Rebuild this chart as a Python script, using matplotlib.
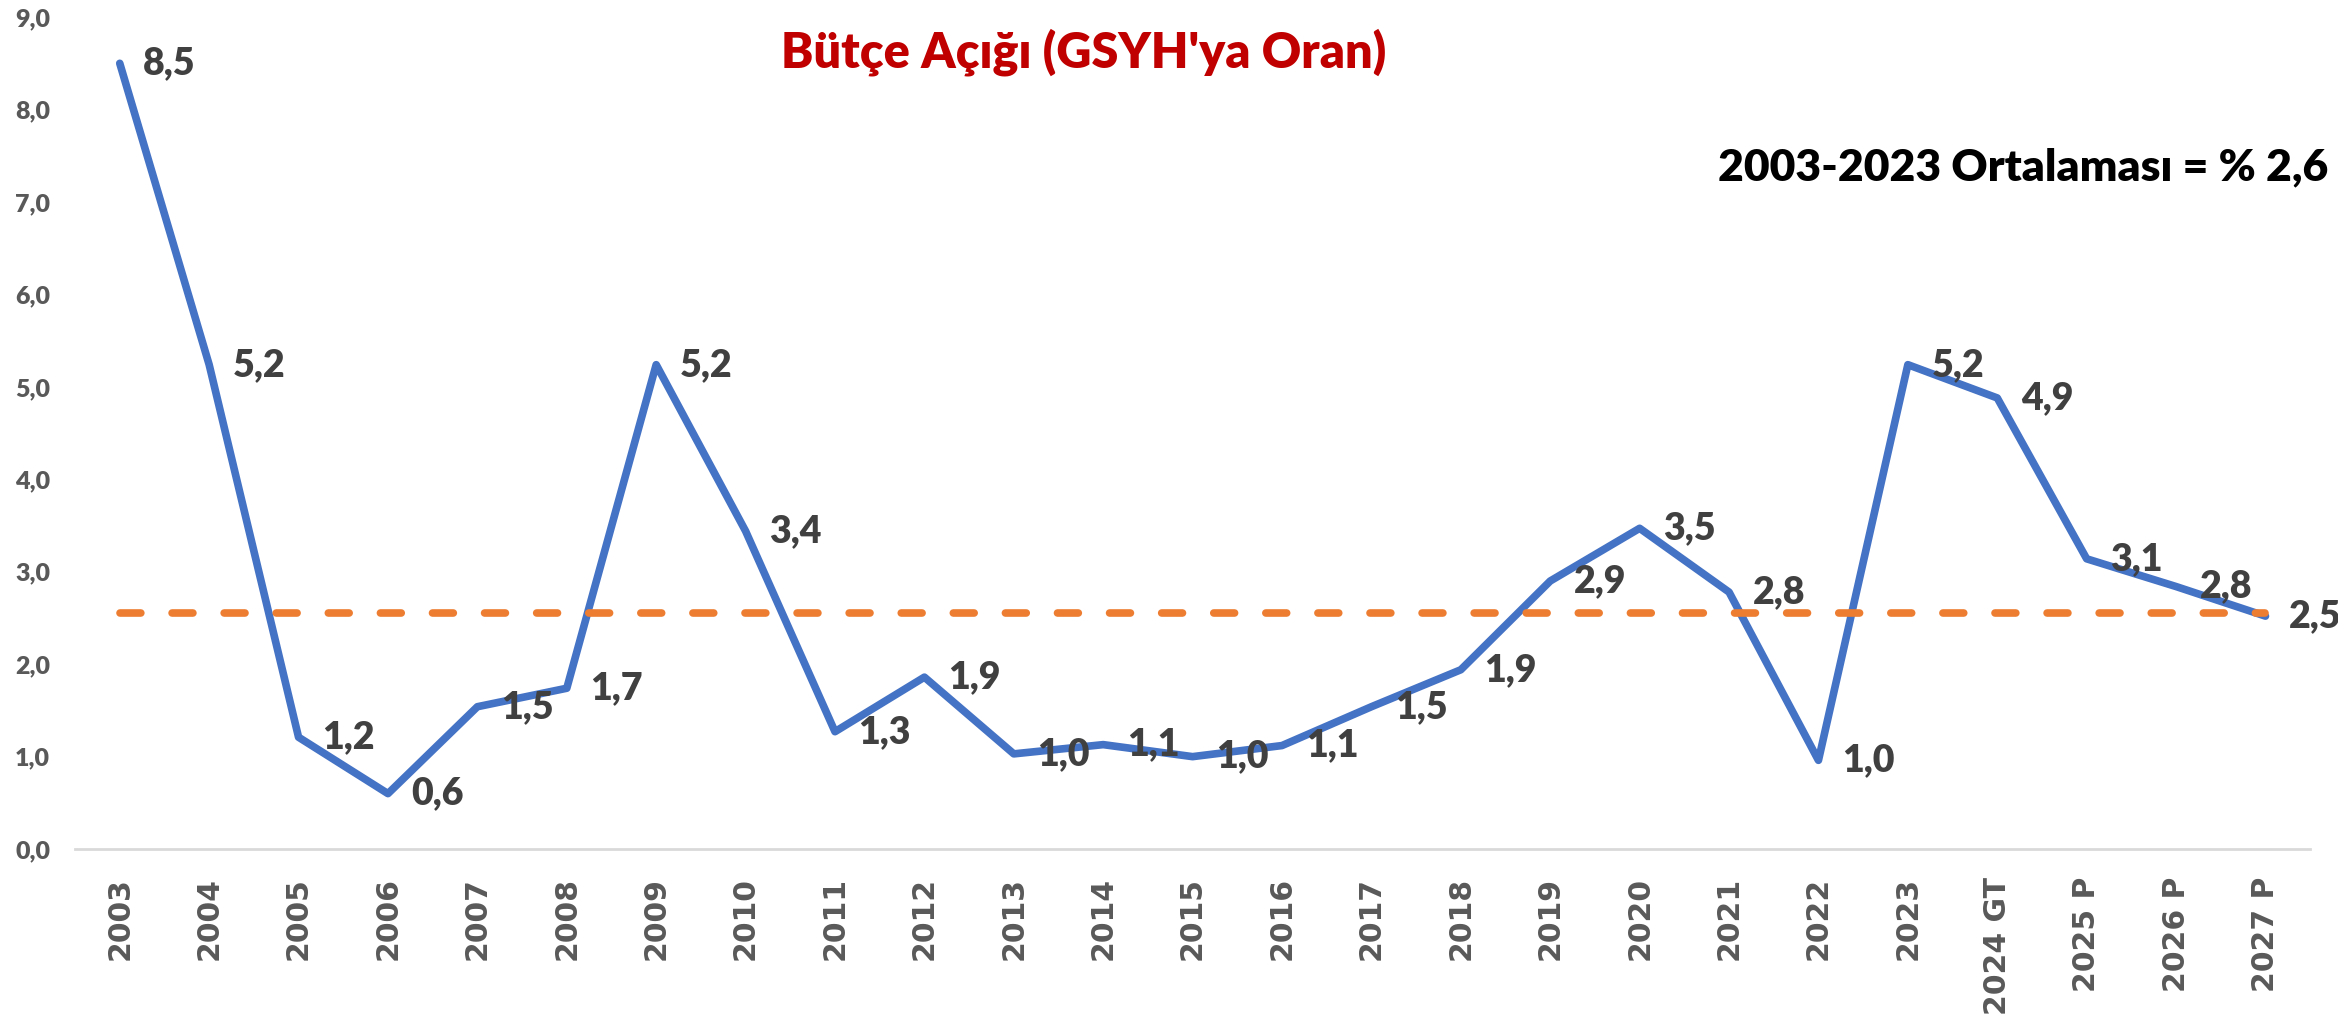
import matplotlib
matplotlib.use("Agg")
import matplotlib.pyplot as plt

# --- veriler ---
yillar = ["2003", "2004", "2005", "2006", "2007", "2008", "2009", "2010",
          "2011", "2012", "2013", "2014", "2015", "2016", "2017", "2018",
          "2019", "2020", "2021", "2022", "2023", "2024 GT", "2025 P",
          "2026 P", "2027 P"]
butce_acigi = [8.5, 5.24, 1.21, 0.6, 1.54, 1.74, 5.24, 3.44, 1.27, 1.86,
               1.03, 1.13, 1.0, 1.12, 1.54, 1.94, 2.9, 3.47, 2.78, 0.96,
               5.24, 4.88, 3.14, 2.84, 2.52]
ortalama = 2.55
y_ticks = [0, 1, 2, 3, 4, 5, 6, 7, 8, 9]

baslik = "Bütçe Açığı (GSYH'ya Oran)"
ortalama_yazi = "2003-2023 Ortalaması = % 2,6"

MAVI = "#4472C4"
TURUNCU = "#ED7D31"
GRI = "#595959"
KOYU = "#404040"
FONT = ["Lato", "DejaVu Sans"]
KALIN = "heavy"

fig = plt.figure(figsize=(23.38, 10.23), dpi=100)
ax = fig.add_axes([0.0321, 0.170, 0.956, 0.8133])

x = list(range(len(yillar)))
ax.plot(x, butce_acigi, color=MAVI, lw=5.5, solid_joinstyle="round",
        solid_capstyle="round", zorder=2)

for xi, v in zip(x, butce_acigi):
    ax.annotate(f"{v:.1f}".replace(".", ","), (xi, v), xytext=(17, 0),
                textcoords="offset points", ha="left", va="center",
                fontsize=27, fontweight=KALIN, color=KOYU, family=FONT,
                zorder=3)

lw_d = 5.5
ax.plot([x[0], x[-1]], [ortalama, ortalama], color=TURUNCU, lw=lw_d,
        ls=(0, (15.0 / lw_d, 22.5 / lw_d)), dash_capstyle="round", zorder=4)

ax.set_xlim(-0.5, len(yillar) - 0.5)
ax.set_ylim(0, 9)
ax.set_xticks(x)
ax.set_xticklabels(yillar, rotation=90, ha="center", va="top",
                   fontsize=21.5, fontweight="bold", color=GRI,
                   family="DejaVu Sans")
ax.set_yticks(y_ticks)
ax.set_yticklabels([f"{t:.1f}".replace(".", ",") for t in y_ticks],
                   fontsize=18, fontweight=KALIN, color=GRI, family=FONT)
ax.tick_params(axis="x", length=0, pad=20)
ax.tick_params(axis="y", length=0, pad=18)

for s in ["top", "right", "left"]:
    ax.spines[s].set_visible(False)
ax.spines["bottom"].set_color("#D9D9D9")
ax.spines["bottom"].set_linewidth(2)

fig.text(0.4635, 0.949, baslik, ha="center", va="center", fontsize=35,
         fontweight=KALIN, color="#C00000", family=FONT)
fig.text(0.996, 0.836, ortalama_yazi, ha="right", va="center", fontsize=32,
         fontweight=KALIN, color="black", family=FONT)

fig.savefig("out.png", dpi=100)
